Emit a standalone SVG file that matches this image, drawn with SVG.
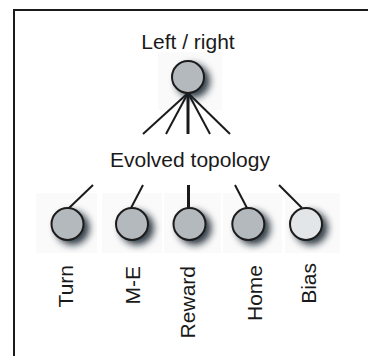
<svg xmlns="http://www.w3.org/2000/svg" width="368" height="356" viewBox="0 0 368 356">
<defs>
<filter id="sh" x="-70%" y="-70%" width="240%" height="240%">
<feGaussianBlur in="SourceAlpha" stdDeviation="3.5"/>
<feOffset dx="5" dy="4" result="b"/>
<feFlood flood-color="#15202c" flood-opacity="0.85"/>
<feComposite in2="b" operator="in"/>
<feMerge><feMergeNode/><feMergeNode in="SourceGraphic"/></feMerge>
</filter>
<style>
.lbl{font-family:"Liberation Sans",Arial,sans-serif;font-size:21px;fill:#1a1a1a}
.n{fill:#b4b9bd;stroke:#1c1c1c;stroke-width:2;filter:url(#sh)}
.bias{fill:#e3e6e8}
.bg{fill:#fafafa}
.c{stroke:#1a1a1a;stroke-width:2;fill:none}
.cm{stroke-width:3}
</style>
</defs>
<rect width="368" height="356" fill="#fff"/>
<path d="M14,356 V10 H368" fill="none" stroke="#1a1a1a" stroke-width="2"/>
<g id="backdrops">
<rect class="bg" x="158" y="52" width="64" height="58"/>
<rect class="bg" x="36" y="193" width="61" height="60"/>
<rect class="bg" x="102" y="193" width="60" height="60"/>
<rect class="bg" x="164" y="193" width="57" height="60"/>
<rect class="bg" x="223" y="193" width="59" height="60"/>
<rect class="bg" x="285" y="193" width="55" height="60"/>
</g>
<g id="connectors">
<line class="c" x1="188" y1="93" x2="143" y2="134"/>
<line class="c" x1="188" y1="93" x2="166" y2="134"/>
<line class="c cm" x1="188" y1="93" x2="188" y2="134"/>
<line class="c" x1="188" y1="93" x2="210" y2="134"/>
<line class="c" x1="188" y1="93" x2="230" y2="134"/>
<line class="c" x1="93" y1="185" x2="69" y2="208"/>
<line class="c" x1="143" y1="185" x2="131" y2="208"/>
<line class="c cm" x1="188.5" y1="185" x2="188.5" y2="208"/>
<line class="c" x1="235" y1="185" x2="247" y2="208"/>
<line class="c" x1="279" y1="185" x2="302" y2="208"/>
</g>
<g id="top">
<circle class="n" cx="188" cy="77" r="16"/>
<text class="lbl" x="188" y="49" text-anchor="middle">Left / right</text>
</g>
<text class="lbl" x="190" y="167" text-anchor="middle">Evolved topology</text>
<g id="turn">
<circle class="n" cx="67.5" cy="224" r="16"/>
<text class="lbl" transform="translate(73,265) rotate(-90)" text-anchor="end">Turn</text>
</g>
<g id="me">
<circle class="n" cx="132" cy="224" r="16"/>
<text class="lbl" transform="translate(140,266) rotate(-90)" text-anchor="end">M-E</text>
</g>
<g id="reward">
<circle class="n" cx="189.5" cy="224" r="16"/>
<text class="lbl" transform="translate(195,266) rotate(-90)" text-anchor="end">Reward</text>
</g>
<g id="home">
<circle class="n" cx="248.3" cy="224" r="16"/>
<text class="lbl" transform="translate(262,265) rotate(-90)" text-anchor="end">Home</text>
</g>
<g id="bias">
<circle class="n bias" cx="306" cy="224" r="16"/>
<text class="lbl" transform="translate(316,263) rotate(-90)" text-anchor="end">Bias</text>
</g>
</svg>
